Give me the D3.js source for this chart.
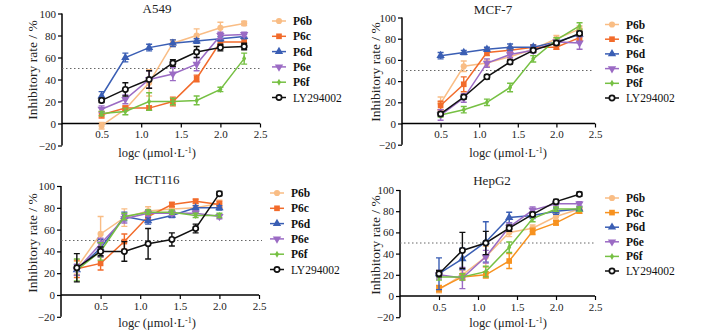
<!DOCTYPE html>
<html>
<head>
<meta charset="utf-8">
<script src="https://cdn.jsdelivr.net/npm/d3@7"></script>
<style>
  body { margin: 0; background: #fff; }
  svg { display: block; }
  svg text { font-family: "Liberation Serif", "Times New Roman", serif; }
</style>
</head>
<body>
<svg id="chart" width="702" height="336"></svg>
<script>
// ---- data ----
const seriesNames = ["P6b", "P6c", "P6d", "P6e", "P6f", "LY294002"];
const xTicks = [0.5, 1.0, 1.5, 2.0, 2.5];
const yTicks = [-20, 0, 20, 40, 60, 80, 100];

const doseA549 = [0.5, 0.8, 1.1, 1.4, 1.7, 2.0, 2.3];
const a549Mean = [
  [-2, 13, 37, 73, 80, 87, 91],
  [8, 14, 14, 20, 41, 74, 74],
  [25, 60, 69, 73, 75, 77, 79],
  [13, 22, 40, 45, 54, 80, 81],
  [9, 11, 20, 20, 21, 31, 59],
  [21, 31, 40, 55, 65, 69, 70],
];
const a549Err = [
  [3, 2, 12, 3, 6, 5, 2],
  [3, 2, 2, 4, 3, 3, 3],
  [4, 4, 3, 3, 2, 2, 2],
  [3, 4, 8, 6, 6, 3, 2],
  [2, 3, 8, 3, 4, 2, 5],
  [2, 6, 8, 3, 5, 3, 3],
];

const doseMCF7 = [0.5, 0.8, 1.1, 1.4, 1.7, 2.0, 2.3];
const mcf7Mean = [
  [19, 54, 57, 63, 70, 80, 89],
  [17, 37, 67, 69, 72, 72, 81],
  [64, 67, 70, 72, 72, 77, 84],
  [8, 24, 57, 65, 69, 77, 76],
  [8, 13, 20, 34, 61, 79, 92],
  [9, 25, 44, 58, 69, 76, 85],
];
const mcf7Err = [
  [6, 5, 3, 3, 2, 3, 3],
  [4, 7, 3, 3, 2, 2, 3],
  [3, 2, 2, 3, 2, 2, 2],
  [5, 4, 4, 3, 2, 2, 6],
  [2, 3, 3, 4, 3, 2, 3],
  [2, 2, 2, 2, 2, 2, 2],
];

const doseHCT116 = [0.2, 0.5, 0.8, 1.1, 1.4, 1.7, 2.0];
const hct116Mean = [
  [25, 56, 71, 77, 79, 80, 84],
  [24, 29, 49, 72, 83, 86, 83],
  [23, 43, 72, 68, 73, 80, 80],
  [23, 47, 70, 75, 75, 75, 72],
  [23, 40, 72, 76, 76, 73, 73],
  [25, 40, 40, 47, 51, 61, 93],
];
const hct116Err = [
  [6, 16, 8, 4, 2, 2, 3],
  [8, 6, 7, 3, 2, 2, 3],
  [5, 8, 4, 3, 2, 2, 2],
  [5, 5, 4, 3, 2, 2, 2],
  [10, 8, 3, 2, 2, 2, 2],
  [13, 4, 9, 14, 6, 4, 2],
];

const doseHepG2 = [0.5, 0.8, 1.1, 1.4, 1.7, 2.0, 2.3];
const hepg2Mean = [
  [6, 20, 37, 60, 64, 75, 82],
  [7, 18, 20, 33, 61, 69, 80],
  [21, 35, 51, 74, 76, 80, 82],
  [20, 17, 37, 65, 81, 87, 87],
  [18, 18, 23, 46, 73, 82, 82],
  [21, 43, 50, 64, 77, 89, 96],
];
const hepg2Err = [
  [3, 4, 10, 4, 3, 3, 2],
  [3, 3, 3, 7, 3, 2, 2],
  [15, 10, 19, 5, 3, 3, 2],
  [4, 10, 6, 4, 3, 2, 2],
  [3, 3, 5, 5, 3, 2, 2],
  [3, 17, 11, 3, 2, 2, 2],
];

// ---- layout / style ----
const serif = "Liberation Serif, Times New Roman, serif";
const colors = ["#f9bd85", "#f26b2b", "#3a5eb4", "#9b6bc4", "#76c043", "#111111"];
const hepColors = ["#f9bd85", "#f7921f", "#3a5eb4", "#9b6bc4", "#76c043", "#111111"];

const panels = [
  { title: "A549", dose: doseA549, mean: a549Mean, err: a549Err, colors: colors,
    xr: [62, 260], yr: [123.5, 13.5], titleX: 157, titleY: 13, xlabX: 157, xlabY: 157,
    ylabX: 32, ylabY: 70, dotEnd: 262, legX: 279, legY: 21, legStep: 15.3 },
  { title: "MCF-7", dose: doseMCF7, mean: mcf7Mean, err: mcf7Err, colors: colors,
    xr: [402, 595], yr: [123.5, 17.5], titleX: 493, titleY: 14, xlabX: 508, xlabY: 157,
    ylabX: 375, ylabY: 72, dotEnd: 594, legX: 612, legY: 24.5, legStep: 14.7 },
  { title: "HCT116", dose: doseHCT116, mean: hct116Mean, err: hct116Err, colors: colors,
    xr: [61, 259], yr: [295, 186], titleX: 157, titleY: 184, xlabX: 157, xlabY: 327,
    ylabX: 32, ylabY: 243, dotEnd: 262, legX: 277, legY: 193, legStep: 15.3 },
  { title: "HepG2", dose: doseHepG2, mean: hepg2Mean, err: hepg2Err, colors: hepColors,
    xr: [400, 595], yr: [296, 190], titleX: 492, titleY: 185, xlabX: 508, xlabY: 327,
    ylabX: 375, ylabY: 245, dotEnd: 594, legX: 612, legY: 198, legStep: 14.6 },
];

const symbolTypes = [d3.symbolCircle, d3.symbolSquare, d3.symbolTriangle, d3.symbolTriangle, d3.symbolDiamond, d3.symbolCircle];
const symbolSizes = [30, 32, 30, 30, 14, 22];
const symbolRotate = [0, 0, 0, 180, 0, 0];

const svg = d3.select("#chart");

function drawMarker(g, i, color, cx, cy) {
  const p = g.append("path")
    .attr("d", d3.symbol().type(symbolTypes[i]).size(symbolSizes[i])())
    .attr("transform", `translate(${cx},${cy}) rotate(${symbolRotate[i]})`);
  if (i === 5) {
    p.attr("fill", "#fff").attr("stroke", color).attr("stroke-width", 1.7);
  } else {
    p.attr("fill", color);
  }
}

panels.forEach((p) => {
  const g = svg.append("g").attr("font-family", serif);
  const x = d3.scaleLinear().domain([0, 2.5]).range(p.xr);
  const y = d3.scaleLinear().domain([0, 100]).range(p.yr);

  // y axis
  const yAxis = g.append("g")
    .attr("transform", `translate(${p.xr[0]},0)`)
    .call(d3.axisLeft(y).tickValues(yTicks).tickSize(4).tickPadding(2).tickFormat(d3.format("d")));
  yAxis.attr("font-family", serif);
  yAxis.select(".domain").attr("stroke-width", 1.5).attr("d", `M0,${y(-20)}V${y(100)}`);
  yAxis.selectAll(".tick line").attr("stroke-width", 1.2);
  yAxis.selectAll("text").attr("font-size", 11).attr("font-family", serif).attr("fill", "#222");

  // x axis at y = 0
  const xAxis = g.append("g")
    .attr("transform", `translate(0,${y(0)})`)
    .call(d3.axisBottom(x).tickValues(xTicks).tickSize(4).tickPadding(3).tickFormat(d3.format(".1f")));
  xAxis.attr("font-family", serif);
  xAxis.select(".domain").attr("stroke-width", 1.5).attr("d", `M${p.xr[0]},0H${p.xr[1]}`);
  xAxis.selectAll(".tick line").attr("stroke-width", 1.2);
  xAxis.selectAll("text").attr("font-size", 11).attr("font-family", serif).attr("fill", "#222");

  // dotted 50% line
  g.append("line")
    .attr("x1", p.xr[0]).attr("x2", p.dotEnd)
    .attr("y1", y(50)).attr("y2", y(50))
    .attr("stroke", "#666").attr("stroke-width", 1)
    .attr("stroke-dasharray", "1.5,2.5");

  // title & labels
  g.append("text").attr("x", p.titleX).attr("y", p.titleY)
    .attr("text-anchor", "middle").attr("font-size", 13).attr("fill", "#222").text(p.title);

  const xl = g.append("text").attr("x", p.xlabX).attr("y", p.xlabY)
    .attr("text-anchor", "middle").attr("font-size", 12.5).attr("fill", "#222");
  xl.append("tspan").text("log");
  xl.append("tspan").attr("font-style", "italic").text("c");
  xl.append("tspan").text(" (μmol·L");
  xl.append("tspan").attr("font-size", 8).attr("dy", -4).text("-1");
  xl.append("tspan").attr("dy", 4).text(")");

  g.append("text")
    .attr("transform", `translate(${p.ylabX},${p.ylabY}) rotate(-90)`)
    .attr("text-anchor", "middle").attr("dy", "0.35em")
    .attr("font-size", 13.5).attr("fill", "#222")
    .text("Inhibitory rate / %");

  // series
  const line = d3.line().x((d) => x(d[0])).y((d) => y(d[1]));
  seriesNames.forEach((name, i) => {
    const color = p.colors[i];
    const sg = g.append("g");
    const pts = p.dose.map((d, k) => [d, p.mean[i][k], p.err[i][k]]);

    // error bars
    pts.forEach((d) => {
      const cx = x(d[0]);
      const top = y(d[1] + d[2]);
      const bot = y(d[1] - d[2]);
      sg.append("path")
        .attr("d", `M${cx},${top}V${bot}M${cx - 3},${top}H${cx + 3}M${cx - 3},${bot}H${cx + 3}`)
        .attr("stroke", color).attr("stroke-width", 1.4).attr("fill", "none");
    });

    sg.append("path")
      .attr("d", line(pts))
      .attr("fill", "none").attr("stroke", color).attr("stroke-width", 1.5);

    pts.forEach((d) => drawMarker(sg, i, color, x(d[0]), y(d[1])));

    // legend entry
    const ly = p.legY + i * p.legStep;
    g.append("line")
      .attr("x1", p.legX - 7).attr("x2", p.legX + 7)
      .attr("y1", ly).attr("y2", ly)
      .attr("stroke", color).attr("stroke-width", 1.5);
    drawMarker(g, i, color, p.legX, ly);
    g.append("text")
      .attr("x", p.legX + 14).attr("y", ly).attr("dy", "0.35em")
      .attr("font-size", 11.5).attr("fill", "#111")
      .attr("font-weight", i === 5 ? "normal" : "bold")
      .text(name);
  });
});
</script>
</body>
</html>
